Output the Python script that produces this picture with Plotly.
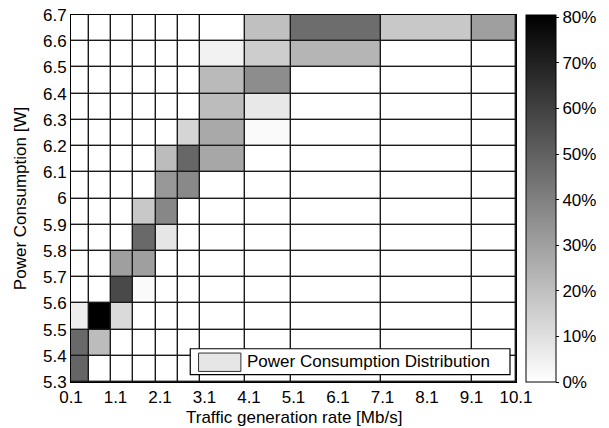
import plotly.graph_objects as go

# ---- data ----
x_edges = [0.1, 0.5, 1.0, 1.5, 2.0, 2.5, 3.0, 4.0, 5.05, 7.07, 9.1, 10.1]
y_edges = [5.3, 5.4, 5.5, 5.6, 5.7, 5.8, 5.9, 6.0, 6.1, 6.2, 6.3, 6.4, 6.5, 6.6, 6.7]

# percentage of samples per cell, rows from bottom (5.3-5.4) to top (6.6-6.7)
z_pct = [
    [48.5, 0, 0, 0, 0, 0, 0, 0, 0, 0, 0],
    [47.4, 21.3, 0, 0, 0, 0, 0, 0, 0, 0, 0],
    [5.4, 80.5, 11.8, 0, 0, 0, 0, 0, 0, 0, 0],
    [0, 0, 57.6, 1.6, 0, 0, 0, 0, 0, 0, 0],
    [0, 0, 30.2, 30.2, 0, 0, 0, 0, 0, 0, 0],
    [0, 0, 0, 47.4, 8.0, 0, 0, 0, 0, 0, 0],
    [0, 0, 0, 17.5, 37.8, 0, 0, 0, 0, 0, 0],
    [0, 0, 0, 0, 32.4, 37.2, 0, 0, 0, 0, 0],
    [0, 0, 0, 0, 21.0, 48.0, 27.7, 0, 0, 0, 0],
    [0, 0, 0, 0, 0, 13.4, 27.0, 1.6, 0, 0, 0],
    [0, 0, 0, 0, 0, 0, 21.3, 7.3, 0, 0, 0],
    [0, 0, 0, 0, 0, 0, 21.9, 35.9, 0, 0, 0],
    [0, 0, 0, 0, 0, 0, 4.1, 15.9, 23.5, 0, 0],
    [0, 0, 0, 0, 0, 0, 0, 20.0, 46.1, 17.5, 30.2],
]

x_tickvals = [0.1, 1.1, 2.1, 3.1, 4.1, 5.1, 6.1, 7.1, 8.1, 9.1, 10.1]
x_ticktext = ["0.1", "1.1", "2.1", "3.1", "4.1", "5.1", "6.1", "7.1", "8.1", "9.1", "10.1"]
y_tickvals = [5.3, 5.4, 5.5, 5.6, 5.7, 5.8, 5.9, 6.0, 6.1, 6.2, 6.3, 6.4, 6.5, 6.6, 6.7]
y_ticktext = ["5.3", "5.4", "5.5", "5.6", "5.7", "5.8", "5.9", "6", "6.1", "6.2", "6.3", "6.4", "6.5", "6.6", "6.7"]
cbar_tickvals = [0, 10, 20, 30, 40, 50, 60, 70, 80]
cbar_ticktext = ["0%", "10%", "20%", "30%", "40%", "50%", "60%", "70%", "80%"]

legend_label = "Power Consumption Distribution"
x_title = "Traffic generation rate [Mb/s]"
y_title = "Power Consumption [W]"

FONT = "Liberation Sans"
FS = 17

fig = go.Figure()
fig.add_trace(go.Heatmap(
    x=x_edges, y=y_edges, z=z_pct,
    zmin=0, zmax=80.5,
    colorscale=[[0, "#ffffff"], [1, "#000000"]],
    xgap=1.4, ygap=1.4,
    hoverongaps=False,
    colorbar=dict(
        x=1.0225, xanchor="left", xpad=0,
        y=0.5, yanchor="middle", len=1, lenmode="fraction", ypad=0,
        thickness=30, thicknessmode="pixels",
        outlinewidth=1, outlinecolor="black",
        tickmode="array", tickvals=cbar_tickvals, ticktext=cbar_ticktext,
        ticks="outside", ticklen=3, tickcolor="black",
        tickfont=dict(family=FONT, size=FS, color="black"),
    ),
))

# legend box drawn inside the plot area
fig.add_shape(type="rect", xref="paper", yref="paper",
              x0=0.268, x1=0.9865, y0=0.0199, y1=0.0906,
              line=dict(color="black", width=1.2), fillcolor="white", layer="above")
fig.add_shape(type="rect", xref="paper", yref="paper",
              x0=0.2866, x1=0.3818, y0=0.0288, y1=0.0789,
              line=dict(color="#333333", width=1), fillcolor="#e6e6e6", layer="above")
fig.add_annotation(xref="paper", yref="paper", x=0.3914, y=0.0552,
                   xanchor="left", yanchor="middle", showarrow=False,
                   text=legend_label, font=dict(family=FONT, size=FS, color="black"))

# x-axis title placed as a centred annotation just under the tick labels
fig.add_annotation(xref="paper", yref="paper", x=0.5, y=-0.096,
                   xanchor="center", yanchor="middle", showarrow=False,
                   text=x_title, font=dict(family=FONT, size=FS, color="black"))

fig.update_xaxes(
    range=[0.1, 10.1], tickvals=x_tickvals, ticktext=x_ticktext,
    showgrid=False, zeroline=False, ticks="", automargin=False,
    showline=True, mirror=True, linecolor="black", linewidth=1,
    tickfont=dict(family=FONT, size=FS, color="black"),
)
fig.update_yaxes(
    range=[5.3, 6.7], tickvals=y_tickvals, ticktext=y_ticktext,
    showgrid=False, zeroline=False, ticks="", automargin=False,
    showline=True, mirror=True, linecolor="black", linewidth=1,
    tickfont=dict(family=FONT, size=FS, color="black"),
    title=dict(text=y_title, standoff=12,
               font=dict(family=FONT, size=FS, color="black")),
)
fig.update_layout(
    width=609, height=428,
    margin=dict(l=71, r=93, t=15, b=46, autoexpand=False),
    paper_bgcolor="white", plot_bgcolor="#1a1a1a",
    font=dict(family=FONT, size=FS, color="black"),
    showlegend=False,
)
fig.write_html("out.html", config={"displayModeBar": False},
               post_script="document.body.style.margin='0';")
